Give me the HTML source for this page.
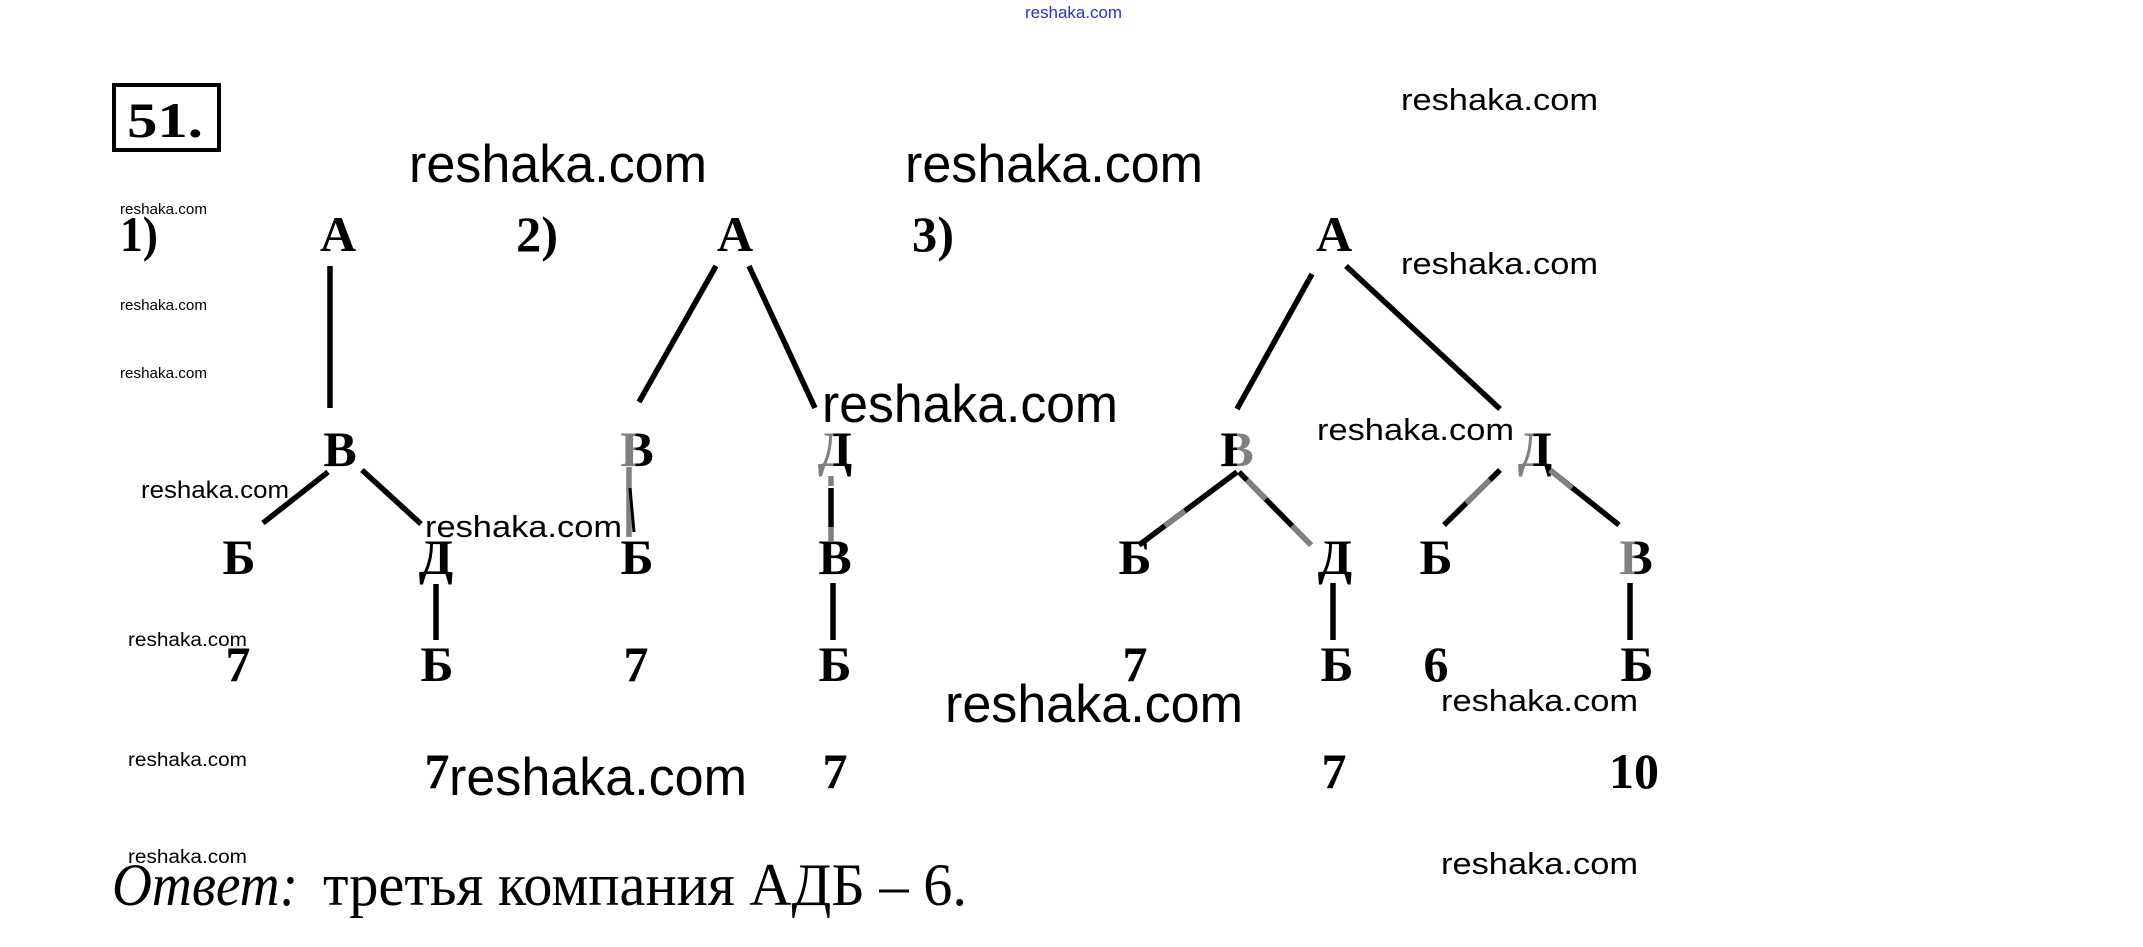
<!DOCTYPE html>
<html><head><meta charset="utf-8"><style>
html,body{margin:0;padding:0;background:#fff;width:2143px;height:947px;overflow:hidden}
svg{display:block}
.t{font-family:"Liberation Serif","DejaVu Serif",serif;font-weight:bold;font-size:50px;fill:#000}
.w{font-family:"Liberation Sans","DejaVu Sans",sans-serif;fill:#000}
.ln{stroke:#000;stroke-width:5.5;stroke-linecap:butt}
.gl{stroke:#808080;stroke-width:5.5}
</style></head><body>
<svg width="2143" height="947" viewBox="0 0 2143 947" xmlns="http://www.w3.org/2000/svg">
<defs>
<linearGradient id="lg" x1="0" y1="0" x2="1" y2="0"><stop offset="0" stop-color="#808080"/><stop offset="0.45" stop-color="#808080"/><stop offset="0.45" stop-color="#000"/><stop offset="1" stop-color="#000"/></linearGradient>
<linearGradient id="rg" x1="0" y1="0" x2="1" y2="0"><stop offset="0" stop-color="#000"/><stop offset="0.5" stop-color="#000"/><stop offset="0.5" stop-color="#808080"/><stop offset="1" stop-color="#808080"/></linearGradient>
</defs>

<!-- top blue watermark -->
<text x="1025" y="18" font-family="Liberation Sans, sans-serif" font-size="17" fill="#2f2fc8" textLength="97" lengthAdjust="spacingAndGlyphs">reshaka.com</text>

<!-- 51 box -->
<rect x="114" y="85" width="105" height="65" fill="none" stroke="#000" stroke-width="4"/>
<text x="127" y="137" class="t" font-size="58" textLength="76" lengthAdjust="spacingAndGlyphs">51.</text>

<!-- labels -->
<text x="120" y="251" class="t" font-size="48" textLength="38" lengthAdjust="spacingAndGlyphs">1)</text>
<text x="516" y="251" class="t" font-size="48" textLength="42" lengthAdjust="spacingAndGlyphs">2)</text>
<text x="912" y="251" class="t" font-size="48" textLength="42" lengthAdjust="spacingAndGlyphs">3)</text>

<!-- Tree 1 -->
<text x="338" y="251" class="t" text-anchor="middle">А</text>
<line class="ln" x1="330" y1="266" x2="330" y2="408"/>
<text x="340" y="466" class="t" text-anchor="middle">В</text>
<line class="ln" x1="328" y1="472" x2="263" y2="523"/>
<line class="ln" x1="362" y1="470" x2="421" y2="524"/>
<text x="239" y="574" class="t" text-anchor="middle">Б</text>
<text x="436" y="574" class="t" text-anchor="middle">Д</text>
<line class="ln" x1="436" y1="584" x2="436" y2="640"/>
<text x="238" y="681" class="t" text-anchor="middle">7</text>
<text x="437" y="681" class="t" text-anchor="middle">Б</text>
<text x="437" y="788" class="t" text-anchor="middle">7</text>

<!-- Tree 2 -->
<text x="735" y="251" class="t" text-anchor="middle">А</text>
<line class="ln" x1="716" y1="266" x2="639" y2="402"/>
<line class="ln" x1="749" y1="266" x2="815" y2="408"/>
<text x="637" y="466" class="t" text-anchor="middle" style="fill:url(#lg)">В</text>
<text x="835" y="466" class="t" text-anchor="middle" style="fill:url(#lg)">Д</text>
<line class="gl" x1="629" y1="467" x2="629" y2="537"/>
<line x1="630" y1="488" x2="634" y2="532" stroke="#000" stroke-width="3"/>
<line class="gl" x1="831" y1="476" x2="831" y2="486"/>
<line class="ln" x1="831" y1="488" x2="831" y2="527"/>
<line class="gl" x1="831" y1="527" x2="831" y2="541"/>
<text x="637" y="574" class="t" text-anchor="middle">Б</text>
<text x="835" y="574" class="t" text-anchor="middle">В</text>
<line class="ln" x1="833" y1="583" x2="833" y2="640"/>
<text x="636" y="681" class="t" text-anchor="middle">7</text>
<text x="835" y="681" class="t" text-anchor="middle">Б</text>
<text x="835" y="788" class="t" text-anchor="middle">7</text>

<!-- Tree 3 -->
<text x="1334" y="251" class="t" text-anchor="middle">А</text>
<line class="ln" x1="1312" y1="274" x2="1237" y2="409"/>
<line class="ln" x1="1346" y1="266" x2="1500" y2="409"/>
<text x="1237" y="466" class="t" text-anchor="middle" style="fill:url(#rg)">В</text>
<text x="1535" y="466" class="t" text-anchor="middle" style="fill:url(#lg)">Д</text>
<line class="ln" x1="1237" y1="472" x2="1139" y2="545"/>
<line class="gl" x1="1185" y1="511" x2="1165" y2="526"/>
<line class="ln" x1="1239" y1="472" x2="1311" y2="545"/>
<line class="gl" x1="1247" y1="480" x2="1266" y2="499"/>
<line class="gl" x1="1292" y1="526" x2="1311" y2="545"/>
<line class="ln" x1="1500" y1="470" x2="1444" y2="525"/>
<line class="gl" x1="1490" y1="480" x2="1466" y2="503"/>
<line class="ln" x1="1550" y1="470" x2="1619" y2="525"/>
<line class="gl" x1="1550" y1="470" x2="1572" y2="488"/>
<text x="1135" y="574" class="t" text-anchor="middle">Б</text>
<text x="1335" y="574" class="t" text-anchor="middle">Д</text>
<text x="1436" y="574" class="t" text-anchor="middle">Б</text>
<text x="1636" y="574" class="t" text-anchor="middle" style="fill:url(#lg)">В</text>
<line class="ln" x1="1333" y1="583" x2="1333" y2="640"/>
<line class="ln" x1="1630" y1="583" x2="1630" y2="640"/>
<text x="1135" y="681" class="t" text-anchor="middle">7</text>
<text x="1337" y="681" class="t" text-anchor="middle">Б</text>
<text x="1436" y="681" class="t" text-anchor="middle">6</text>
<text x="1637" y="681" class="t" text-anchor="middle">Б</text>
<text x="1334" y="788" class="t" text-anchor="middle">7</text>
<text x="1634" y="788" class="t" text-anchor="middle">10</text>

<!-- Answer -->
<text x="112" y="905" font-family="Liberation Serif, serif" font-style="italic" font-size="60" textLength="186" lengthAdjust="spacingAndGlyphs">Ответ:</text>
<text x="323" y="905" font-family="Liberation Serif, serif" font-size="60" textLength="644" lengthAdjust="spacingAndGlyphs">третья компания АДБ – 6.</text>

<!-- small watermarks -->
<text class="w" x="120" y="214" font-size="15" textLength="87" lengthAdjust="spacingAndGlyphs">reshaka.com</text>
<text class="w" x="120" y="310" font-size="15" textLength="87" lengthAdjust="spacingAndGlyphs">reshaka.com</text>
<text class="w" x="120" y="378" font-size="15" textLength="87" lengthAdjust="spacingAndGlyphs">reshaka.com</text>
<text class="w" x="128" y="646" font-size="19" textLength="119" lengthAdjust="spacingAndGlyphs">reshaka.com</text>
<text class="w" x="128" y="766" font-size="19" textLength="119" lengthAdjust="spacingAndGlyphs">reshaka.com</text>
<text class="w" x="128" y="863" font-size="19" textLength="119" lengthAdjust="spacingAndGlyphs">reshaka.com</text>
<text class="w" x="141" y="498" font-size="24" textLength="148" lengthAdjust="spacingAndGlyphs">reshaka.com</text>

<!-- medium watermarks -->
<text class="w" x="425" y="537" font-size="31" textLength="197" lengthAdjust="spacingAndGlyphs">reshaka.com</text>
<text class="w" x="1401" y="110" font-size="31" textLength="197" lengthAdjust="spacingAndGlyphs">reshaka.com</text>
<text class="w" x="1401" y="274" font-size="31" textLength="197" lengthAdjust="spacingAndGlyphs">reshaka.com</text>
<text class="w" x="1317" y="440" font-size="31" textLength="197" lengthAdjust="spacingAndGlyphs">reshaka.com</text>
<text class="w" x="1441" y="711" font-size="31" textLength="197" lengthAdjust="spacingAndGlyphs">reshaka.com</text>
<text class="w" x="1441" y="874" font-size="31" textLength="197" lengthAdjust="spacingAndGlyphs">reshaka.com</text>

<!-- big watermarks -->
<text class="w" x="409" y="182" font-size="53" textLength="298" lengthAdjust="spacingAndGlyphs">reshaka.com</text>
<text class="w" x="905" y="182" font-size="53" textLength="298" lengthAdjust="spacingAndGlyphs">reshaka.com</text>
<text class="w" x="822" y="422" font-size="53" textLength="296" lengthAdjust="spacingAndGlyphs">reshaka.com</text>
<text class="w" x="945" y="722" font-size="53" textLength="298" lengthAdjust="spacingAndGlyphs">reshaka.com</text>
<text class="w" x="449" y="795" font-size="53" textLength="298" lengthAdjust="spacingAndGlyphs">reshaka.com</text>
</svg>
</body></html>
